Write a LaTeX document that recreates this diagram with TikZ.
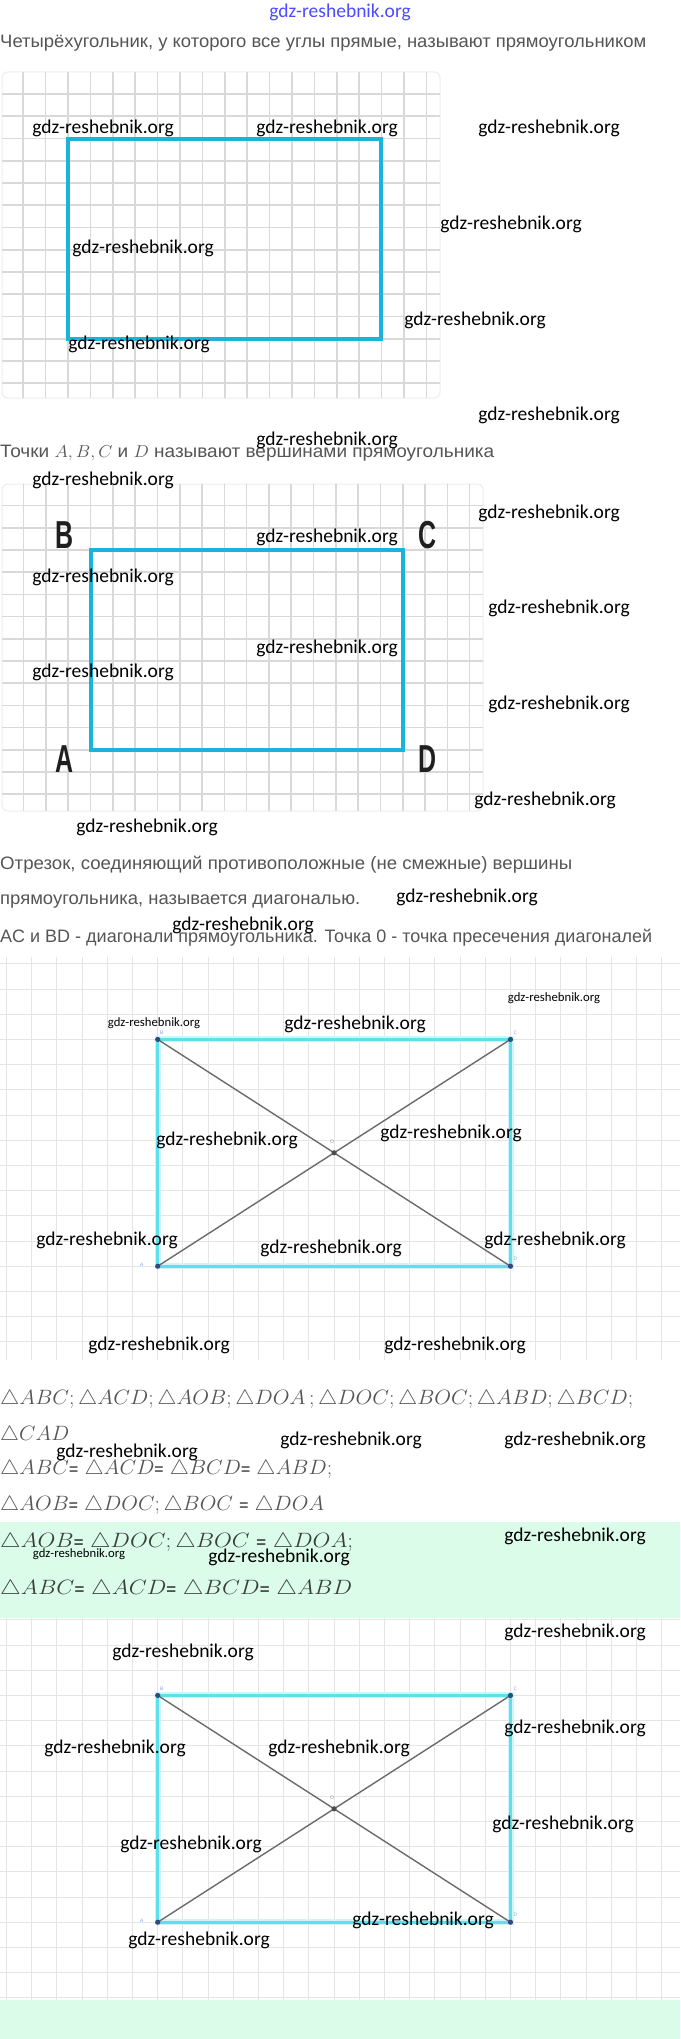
\documentclass[tikz,border=0pt]{standalone}
\usepackage{amsmath}
\usepackage{amssymb}
\usepackage{fontspec}
\setmainfont{Liberation Sans}
\newfontfamily\wmfont{Carlito}
\usepackage{tikz}
\usetikzlibrary{positioning}
\definecolor{rectblue}{HTML}{1AB3DC}
\definecolor{aqua}{HTML}{5FDFEC}
\definecolor{mint}{HTML}{DCFCEA}
\definecolor{txtgray}{HTML}{555555}
\definecolor{txtdark}{HTML}{3A3F3C}
\definecolor{ptblue}{HTML}{2B4C7E}
\definecolor{lblblue}{HTML}{8AA6DA}
\newcommand{\fitw}[2]{\resizebox{#1}{\height}{#2}}
\newcommand{\eqs}{\textbf{\fontsize{15}{15}\selectfont=}}
\tikzset{x=1pt,y=-1pt,
  wm/.style={font=\wmfont\fontsize{19.5}{20}\selectfont, inner sep=0pt},
  wmsmall/.style={font=\wmfont\fontsize{12.7}{13}\selectfont, inner sep=0pt},
  textline/.style={anchor=west, inner sep=0pt, text=txtgray,
    font=\fontsize{18}{20}\selectfont},
  mathline/.style={anchor=west, inner sep=0pt, text=txtgray,
    font=\fontsize{21.5}{24}\selectfont},
  gridA/.style={draw=black!15, line width=1.6pt},
  gridB/.style={draw=black!10, line width=1pt},
  gridedge/.style={draw=black!7, line width=1pt, rounded corners=6pt},
  side/.style={draw=rectblue, line width=4pt, line join=miter},
  aquaside/.style={draw=aqua, line width=2.8pt},
  diag/.style={draw=black!58, line width=1.4pt},
  vtx/.style={inner sep=0pt, text=black!88},
  ptlbl/.style={inner sep=0pt, text=lblblue, font=\fontsize{5}{5}\selectfont}
}
\begin{document}
\begin{tikzpicture}
\useasboundingbox[fill=white] (0,0) rectangle (680,2039);

% first picture: the rectangle on squared paper
\draw[gridedge] (2,72) rectangle (440,398);
\foreach \k in {0,...,18}
  \draw[gridA] ({23.2+22.4*\k},72) -- ({23.2+22.4*\k},398);
\foreach \k in {0,...,13}
  \draw[gridA] (2,{94+22.25*\k}) -- (440,{94+22.25*\k});
\coordinate (r1a) at (68,339);
\coordinate (r1b) at (68,139);
\coordinate (r1c) at (381,139);
\coordinate (r1d) at (381,339);
\draw[side] (r1a) -- (r1b) -- (r1c) -- (r1d) -- cycle;

\node[textline] (head1) at (0,43)
  {\fitw{646pt}{Четырёхугольник, у которого все углы прямые, называют прямоугольником}};

% second picture: the named vertices
\node[textline] (head2) at (0,453)
  {\fitw{494pt}{Точки $A, B, C$ и $D$ называют вершинами прямоугольника}};
\draw[gridedge] (2,484) rectangle (483,811);
\foreach \k in {0,...,20}
  \draw[gridA] ({23.6+22.3*\k},484) -- ({23.6+22.3*\k},811);
\foreach \k in {0,...,13}
  \draw[gridA] (2,{505.6+22.2*\k}) -- (483,{505.6+22.2*\k});
\coordinate (A2) at (90.5,750);
\coordinate (B2) at (90.5,550);
\coordinate (C2) at (403,550);
\coordinate (D2) at (403,750);
\draw[side] (A2) -- (B2) -- (C2) -- (D2) -- cycle;
\foreach \v/\x/\y in {B/65/535,C/428/535,A/65/759,D/428/759}
  \node[vtx] (lab\v) at (\x,\y)
    {\scalebox{0.64}[1]{\fontsize{39}{39}\selectfont\bfseries\v}};

% third and fourth pictures: diagonals
\node[textline] (para1) at (0,865)
  {\fitw{572pt}{Отрезок, соединяющий противоположные (не смежные) вершины}};
\node[textline] (para2) at (0,902)
  {\fitw{360pt}{прямоугольника, называется диагональю.}};
\node[textline] (para3) at (0,938)
  {\fitw{652pt}{AC и BD - диагонали прямоугольника. Точка 0 - точка пресечения диагоналей}};

\foreach \n/\oy/\gt/\gb in {3/0/957/1360,4/656/1618/2000} {
  \foreach \k in {0,...,26}
    \draw[gridB] ({6.5+25.2*\k},\gt) -- ({6.5+25.2*\k},\gb);
  \foreach \k in {0,...,15}
    \draw[gridB] (0,{963.8+\oy+25.2*\k}) -- (680,{963.8+\oy+25.2*\k});
  \coordinate (A\n) at (157.7,{1266.2+\oy});
  \coordinate (B\n) at (157.7,{1039.4+\oy});
  \coordinate (C\n) at (510.5,{1039.4+\oy});
  \coordinate (D\n) at (510.5,{1266.2+\oy});
  \coordinate (O\n) at (334.1,{1152.8+\oy});
  \draw[draw=aqua!30, line width=6pt] (A\n) -- (B\n) -- (C\n) -- (D\n) -- cycle;
  \draw[aquaside] (A\n) -- (B\n) -- (C\n) -- (D\n) -- cycle;
  \draw[diag] (A\n) -- (C\n);
  \draw[diag] (B\n) -- (D\n);
  \foreach \p in {A,B,C,D}
    \fill[ptblue] (\p\n) circle (2.6);
  \fill[black!70] (O\n) circle (2.6);
  \node[ptlbl] (tB\n) at ([shift={(4,-7)}]B\n) {B};
  \node[ptlbl] (tC\n) at ([shift={(5,-7)}]C\n) {C};
  \node[ptlbl] (tA\n) at ([shift={(-16,-1)}]A\n) {A};
  \node[ptlbl] (tD\n) at ([shift={(5,-7)}]D\n) {D};
  \node[ptlbl, text=black!45] (tO\n) at ([shift={(-2,-11)}]O\n) {O};
}

% triangles
\node[mathline] (tri1) at (0,1399)
  {\fitw{633pt}{$\triangle ABC;\triangle ACD;\triangle AOB;\triangle DOA\,;\triangle DOC;\triangle BOC;\triangle ABD;\triangle BCD;$}};
\node[mathline] (tri2) at (0,1435) {\fitw{69pt}{$\triangle CAD$}};
\node[mathline] (tri3) at (0,1469)
  {\fitw{332pt}{$\triangle ABC$\eqs{} $\triangle ACD$\eqs{} $\triangle BCD$\eqs{} $\triangle ABD;$}};
\node[mathline] (tri4) at (0,1505)
  {\fitw{324pt}{$\triangle AOB$\eqs{} $\triangle DOC;\triangle BOC$ \eqs{} $\triangle DOA$}};

\fill[mint] (0,1522) rectangle (680,1618);
\fill[mint] (0,2000) rectangle (680,2039);
\node[mathline, text=txtdark] (ans1) at (0,1542)
  {\fitw{353pt}{$\triangle AOB$\eqs{} $\triangle DOC;\triangle BOC$ \eqs{} $\triangle DOA;$}};
\node[mathline, text=txtdark] (ans2) at (0,1589)
  {\fitw{352pt}{$\triangle ABC$\eqs{} $\triangle ACD$\eqs{} $\triangle BCD$\eqs{} $\triangle ABD$}};

% site marks
\node[wm, text=blue!70] (wmtop) at (340,12) {gdz-reshebnik.org};
\foreach \x/\y [count=\i] in {103/128,327/128,549/128,511/224,143/248,475/320,
    139/344,549/415,327/440,103/480,549/513,327/537,103/577,559/608,327/648,
    103/672,559/704,545/800,147/827,467/897,243/925,355/1024,227/1140,451/1133,
    107/1240,331/1248,555/1240,159/1345,455/1345,127/1452,351/1440,575/1440,
    575/1536,279/1557,575/1632,183/1652,575/1728,115/1748,339/1748,563/1824,
    191/1844,423/1920,199/1940}
  \node[wm] (wm\i) at (\x,\y) {gdz-reshebnik.org};
\foreach \x/\y [count=\i] in {554/998,154/1023,79/1554}
  \node[wmsmall] (wms\i) at (\x,\y) {gdz-reshebnik.org};
\end{tikzpicture}
\end{document}
